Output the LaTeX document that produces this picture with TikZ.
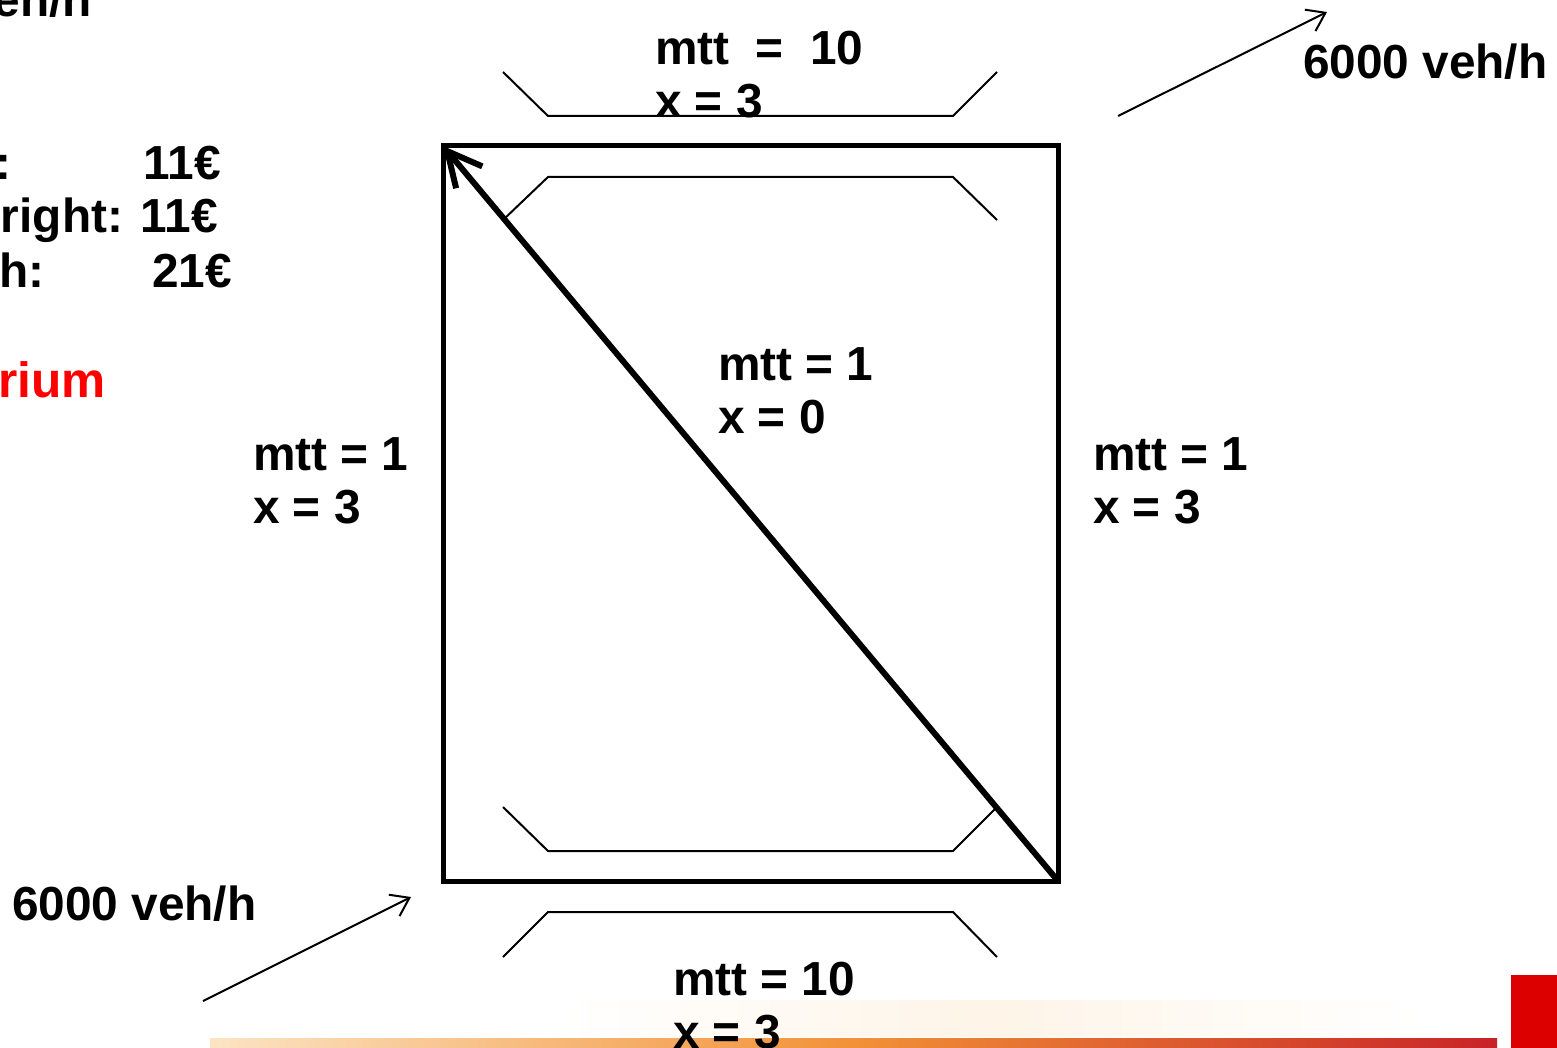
\documentclass[tikz,border=0pt]{standalone}
\usepackage{fontspec}
\setmainfont{Liberation Sans}
\usepackage{tikz}
\usetikzlibrary{arrows.meta,positioning,calc}
\definecolor{slidered}{RGB}{220,0,0}
\definecolor{barpale}{RGB}{252,228,196}
\definecolor{barorange}{RGB}{242,145,55}
\definecolor{bardark}{RGB}{200,35,40}

\begin{document}
\begin{tikzpicture}[x=0.5pt, y=-0.5pt,
  txt/.style={font=\fontsize{23.9}{26.5}\selectfont\bfseries, inner sep=0pt, outer sep=0pt, align=left, anchor=base west},
  road/.style={line width=1pt},
  flow/.style={-{Straight Barb[length=3mm,width=4.2mm]}, line width=1pt},
  route/.style={-{Straight Barb[length=6mm,width=6mm]}, line width=3pt, line cap=round, line join=round}
]
\useasboundingbox (0,0) rectangle (1557,1048);

\shade[left color=white, right color=white, middle color=barpale!40] (560,1000) rectangle (1420,1036);
\shade[left color=barpale, right color=bardark, middle color=barorange] (210,1038) rectangle (1497,1048);
\fill[slidered] (1511,975) rectangle (1557,1048);

\node[draw, line width=2.5pt, minimum width=307.5pt, minimum height=367.5pt, inner sep=0pt, outer sep=0pt] (net) at (750.5,513.5) {};
\draw[route] (net.south east) -- (net.north west);

\foreach \y/\d in {116/-44, 177/43, 851/-44, 912/45} {
  \draw[road] (503,{\y+\d}) -- (548,\y) -- (953,\y) -- (997,{\y+\d});
}

\node[txt] (upper) at (655,118) {mtt\ \ =\ \ 10\\x = 3};
\node[txt] (diag) at (718,433) {mtt = 1\\x = 0};
\node[txt] (west) at (253,523) {mtt = 1\\x = 3};
\node[txt] (east) at (1093,523) {mtt = 1\\x = 3};
\node[txt] (lower) at (673,1048) {mtt = 10\\x = 3};

\node[txt] (outflow) at (1303,79) {6000 veh/h};
\node[txt] (inflow) at (12,920) {6000 veh/h};
\coordinate (outA) at (1118,116);
\coordinate (outB) at (1327,12);
\coordinate (inA) at (203,1001);
\coordinate (inB) at (411,897);
\draw[flow] (outA) -- (outB);
\draw[flow] (inA) -- (inB);

\node[txt, anchor=base east] (demand) at (92,17) {veh/h};
\node[txt] (colA) at (-4,180) {:};
\node[txt, anchor=base east] (costA) at (221,180) {11€};
\node[txt] (costB) at (1,233) {right: 11€};
\node[txt] (colC) at (-1,287) {h:};
\node[txt, anchor=base east] (costC) at (232,287) {21€};
\node[txt, text=red, font=\fontsize{24.8}{28}\selectfont\bfseries] (equil) at (-2,397) {rium};
\end{tikzpicture}
\end{document}
